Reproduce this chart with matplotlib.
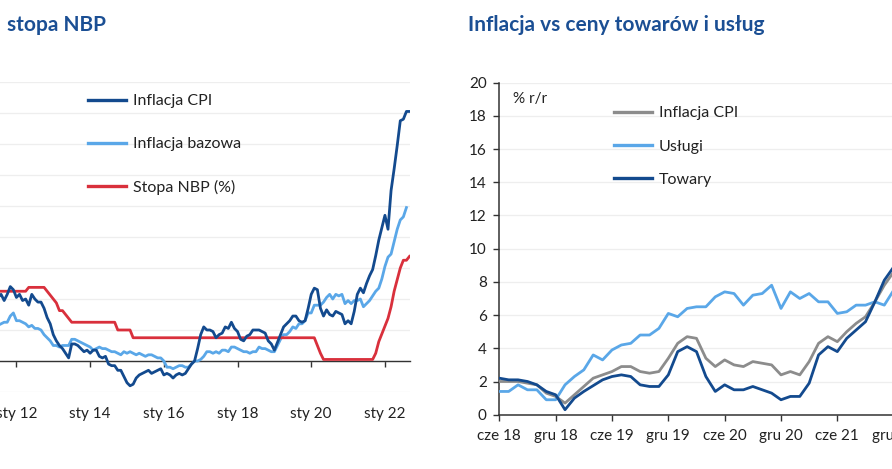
import numpy as np
import matplotlib
matplotlib.use("Agg")
import matplotlib.pyplot as plt

plt.rcParams['font.family'] = ['Lato', 'DejaVu Sans']

# ---------------- Left chart data (monthly, from Jun 2011) ----------------
left_start_year, left_start_month = 2011, 6
cpi_left = [4.2, 4.1, 4.3, 3.9, 4.3, 4.8, 4.6,
            4.1, 4.3, 3.9, 4.0, 3.6, 4.3, 4.0, 3.8, 3.8, 3.4, 2.8, 2.4,
            1.7, 1.3, 1.0, 0.8, 0.5, 0.2, 1.1, 1.1, 1.0, 0.8, 0.6, 0.7,
            0.5, 0.7, 0.7, 0.3, 0.2, 0.3, -0.2, -0.3, -0.3, -0.6, -0.6, -1.0,
            -1.4, -1.6, -1.5, -1.1, -0.9, -0.8, -0.7, -0.6, -0.8, -0.7, -0.6, -0.5,
            -0.9, -0.8, -0.9, -1.1, -0.9, -0.8, -0.9, -0.8, -0.5, -0.2, 0.0, 0.8,
            1.7, 2.2, 2.0, 2.0, 1.9, 1.5, 1.7, 1.8, 2.2, 2.1, 2.5, 2.1,
            1.9, 1.4, 1.3, 1.6, 1.7, 2.0, 2.0, 2.0, 1.9, 1.8, 1.3, 1.1,
            0.7, 1.2, 1.7, 2.2, 2.4, 2.6, 2.9, 2.9, 2.6, 2.5, 2.6, 3.4,
            4.3, 4.7, 4.6, 3.4, 2.9, 3.3, 3.0, 2.9, 3.2, 3.1, 3.0, 2.4,
            2.6, 2.4, 3.2, 4.3, 4.7, 4.4, 5.0, 5.5, 5.9, 6.8, 7.8, 8.6,
            9.4, 8.5, 11.0, 12.4, 13.9, 15.5, 15.6, 16.1, 16.1]
core_left = [2.2, 2.3, 2.4, 2.5, 2.5, 2.9, 3.1,
             2.6, 2.6, 2.5, 2.4, 2.2, 2.3, 2.1, 2.1, 2.0, 1.7, 1.5, 1.3,
             1.0, 1.0, 0.9, 1.0, 1.0, 1.0, 1.4, 1.4, 1.3, 1.2, 1.1, 1.0,
             0.9, 0.7, 0.8, 0.9, 0.8, 0.8, 0.7, 0.6, 0.6, 0.5, 0.4, 0.6,
             0.5, 0.6, 0.5, 0.4, 0.5, 0.4, 0.3, 0.4, 0.4, 0.3, 0.2, 0.2,
             0.0, -0.4, -0.4, -0.5, -0.4, -0.3, -0.3, -0.4, -0.4, -0.2, 0.0, 0.0,
             0.1, 0.3, 0.6, 0.6, 0.5, 0.6, 0.5, 0.7, 0.7, 0.6, 0.9, 0.9,
             0.8, 0.7, 0.6, 0.6, 0.5, 0.6, 0.6, 0.9, 0.8, 0.8, 0.7, 0.6,
             0.6, 1.0, 1.4, 1.7, 1.7, 1.9, 2.2, 2.1, 2.4, 2.4, 2.6, 3.1,
             3.1, 3.6, 3.6, 3.6, 3.8, 4.1, 4.3, 4.0, 4.3, 4.2, 4.3, 3.7,
             3.9, 3.7, 3.9, 3.9, 4.0, 3.5, 3.7, 3.9, 4.2, 4.5, 4.7, 5.3,
             6.1, 6.7, 6.9, 7.7, 8.5, 9.1, 9.3, 9.9]
rate_left = [4.5, 4.5, 4.5, 4.5, 4.5, 4.5, 4.5,
             4.5, 4.5, 4.5, 4.5, 4.75, 4.75, 4.75, 4.75, 4.75, 4.75, 4.5, 4.25,
             4.0, 3.75, 3.25, 3.25, 3.0, 2.75, 2.5, 2.5, 2.5, 2.5, 2.5, 2.5,
             2.5, 2.5, 2.5, 2.5, 2.5, 2.5, 2.5, 2.5, 2.5, 2.0, 2.0, 2.0,
             2.0, 2.0, 1.5, 1.5, 1.5, 1.5, 1.5, 1.5, 1.5, 1.5, 1.5, 1.5,
             1.5, 1.5, 1.5, 1.5, 1.5, 1.5, 1.5, 1.5, 1.5, 1.5, 1.5, 1.5,
             1.5, 1.5, 1.5, 1.5, 1.5, 1.5, 1.5, 1.5, 1.5, 1.5, 1.5, 1.5,
             1.5, 1.5, 1.5, 1.5, 1.5, 1.5, 1.5, 1.5, 1.5, 1.5, 1.5, 1.5,
             1.5, 1.5, 1.5, 1.5, 1.5, 1.5, 1.5, 1.5, 1.5, 1.5, 1.5, 1.5,
             1.5, 1.5, 1.0, 0.5, 0.1, 0.1, 0.1, 0.1, 0.1, 0.1, 0.1, 0.1,
             0.1, 0.1, 0.1, 0.1, 0.1, 0.1, 0.1, 0.1, 0.1, 0.5, 1.25, 1.75,
             2.25, 2.75, 3.5, 4.5, 5.25, 6.0, 6.5, 6.5, 6.75]
left_tick_years = [2010, 2012, 2014, 2016, 2018, 2020, 2022]
left_tick_labels = ["sty 10", "sty 12", "sty 14", "sty 16", "sty 18", "sty 20", "sty 22"]

# ---------------- Right chart data (monthly, from Jun 2018) ----------------
cpi_right = [2.0, 2.0, 2.0, 1.9, 1.8, 1.3, 1.1,
             0.7, 1.2, 1.7, 2.2, 2.4, 2.6, 2.9, 2.9, 2.6, 2.5, 2.6, 3.4,
             4.3, 4.7, 4.6, 3.4, 2.9, 3.3, 3.0, 2.9, 3.2, 3.1, 3.0, 2.4,
             2.6, 2.4, 3.2, 4.3, 4.7, 4.4, 5.0, 5.5, 5.9, 6.8, 7.8, 8.6]
services_right = [1.4, 1.4, 1.8, 1.5, 1.5, 0.9, 0.9,
                  1.8, 2.3, 2.7, 3.6, 3.3, 3.9, 4.2, 4.3, 4.8, 4.8, 5.2, 6.1,
                  5.9, 6.4, 6.5, 6.5, 7.1, 7.4, 7.3, 6.6, 7.2, 7.3, 7.8, 6.4,
                  7.4, 7.0, 7.3, 6.8, 6.8, 6.1, 6.2, 6.6, 6.6, 6.8, 6.6, 7.5]
goods_right = [2.2, 2.1, 2.1, 2.0, 1.8, 1.4, 1.2,
               0.3, 1.0, 1.4, 1.75, 2.1, 2.3, 2.4, 2.3, 1.8, 1.7, 1.7, 2.4,
               3.8, 4.1, 3.8, 2.3, 1.4, 1.8, 1.5, 1.5, 1.7, 1.5, 1.3, 0.9,
               1.1, 1.1, 1.9, 3.6, 4.1, 3.8, 4.6, 5.1, 5.6, 6.8, 8.1, 8.9]
right_tick_pos = [0, 6, 12, 18, 24, 30, 36, 42, 48]
right_tick_labels = ["cze 18", "gru 18", "cze 19", "gru 19", "cze 20",
                     "gru 20", "cze 21", "gru 21", "cze 22"]

# ---------------- Styling ----------------
DARK = "#134A8E"
LIGHT = "#5AA7E8"
RED = "#D9303C"
GREY = "#8C8C8C"
TITLE = "#1B4F94"
GRID = "#EEEEEE"
AXC = "#333333"
TXT = "#222222"

W, H = 892, 469
fig = plt.figure(figsize=(W / 100, H / 100), dpi=100)
fig.patch.set_facecolor("white")

def fx(px):
    return px / W

def fy(py):
    return 1 - py / H

# ---------------- Left axes ----------------
xl0, xl1 = 2010.0, 2022 + 8 / 12
pxl_right = 409.5
px_per_year = 36.85
pxl_left = pxl_right - (xl1 - xl0) * px_per_year
axL = fig.add_axes([fx(pxl_left), fy(392), (pxl_right - pxl_left) / W, (392 - 82) / H])
xL = left_start_year + (left_start_month - 1) / 12 + np.arange(len(cpi_left)) / 12
xLc = left_start_year + (left_start_month - 1) / 12 + np.arange(len(core_left)) / 12
xLr = left_start_year + (left_start_month - 1) / 12 + np.arange(len(rate_left)) / 12
axL.plot(xLc, core_left, color=LIGHT, lw=2.0, label="Inflacja bazowa", zorder=3)
axL.plot(xLr, rate_left, color=RED, lw=2.0, label="Stopa NBP (%)", zorder=3)
axL.plot(xL, cpi_left, color=DARK, lw=2.0, label="Inflacja CPI", zorder=4)
axL.set_xlim(xl0, xl1)
axL.set_ylim(-2, 18)
axL.set_yticks(np.arange(-2, 19, 2))
axL.yaxis.grid(True, color=GRID, lw=0.9)
axL.set_axisbelow(True)
for s in ["top", "right", "left"]:
    axL.spines[s].set_visible(False)
axL.spines["bottom"].set_position(("data", 0))
axL.spines["bottom"].set_color(AXC)
axL.spines["bottom"].set_linewidth(1.0)
axL.tick_params(axis="y", left=False, labelleft=False)
axL.set_xticks(left_tick_years)
axL.set_xticklabels(left_tick_labels)
axL.tick_params(axis="x", direction="out", length=4, width=1, color=AXC,
                pad=29, labelsize=11, labelcolor=TXT)
hL = axL.get_legend_handles_labels()
order = [2, 0, 1]
legL = fig.legend([hL[0][i] for i in order], [hL[1][i] for i in order],
                  loc="upper left", bbox_to_anchor=(fx(88), fy(94)),
                  bbox_transform=fig.transFigure, frameon=False, fontsize=11.5,
                  handlelength=2.35, handletextpad=0.45, labelspacing=1.8,
                  borderpad=0, borderaxespad=0)
for t in legL.get_texts():
    t.set_color(TXT)
for l in legL.get_lines():
    l.set_linewidth(2.4)

# ---------------- Right axes ----------------
pxr_left = 499.3
px_per_month = 9.39
xr1 = 51
axR = fig.add_axes([fx(pxr_left), fy(414.7), xr1 * px_per_month / W, (414.7 - 82.7) / H])
xR = np.arange(len(cpi_right))
axR.plot(xR, services_right, color=LIGHT, lw=2.0, label="Usługi", zorder=3)
axR.plot(xR, cpi_right, color=GREY, lw=2.0, label="Inflacja CPI", zorder=3)
axR.plot(xR, goods_right, color=DARK, lw=2.0, label="Towary", zorder=4)
axR.set_xlim(0, xr1)
axR.set_ylim(0, 20)
axR.set_yticks(np.arange(0, 21, 2))
axR.yaxis.grid(True, color=GRID, lw=0.9)
axR.set_axisbelow(True)
for s in ["top", "right"]:
    axR.spines[s].set_visible(False)
for s in ["left", "bottom"]:
    axR.spines[s].set_color(AXC)
    axR.spines[s].set_linewidth(1.1)
axR.set_xticks(right_tick_pos)
axR.set_xticklabels(right_tick_labels)
axR.tick_params(axis="both", direction="out", length=4, width=1, color=AXC,
                labelsize=11, labelcolor=TXT)
axR.tick_params(axis="x", pad=6)
axR.tick_params(axis="y", pad=5)
hR = axR.get_legend_handles_labels()
orderR = [1, 0, 2]
legR = fig.legend([hR[0][i] for i in orderR], [hR[1][i] for i in orderR],
                  loc="upper left", bbox_to_anchor=(fx(614), fy(106)),
                  bbox_transform=fig.transFigure, frameon=False, fontsize=11.5,
                  handlelength=2.35, handletextpad=0.45, labelspacing=1.2,
                  borderpad=0, borderaxespad=0)
for t in legR.get_texts():
    t.set_color(TXT)
for l in legR.get_lines():
    l.set_linewidth(2.4)

fig.text(fx(512.7), fy(99), "% r/r", fontsize=11, color=TXT, va="center", ha="left")

# ---------------- Titles ----------------
fig.text(fx(7), fy(25), "stopa NBP", fontsize=15, fontweight="bold",
         color=TITLE, va="center", ha="left")
fig.text(fx(468.3), fy(25), "Inflacja vs ceny towarów i usług", fontsize=15,
         fontweight="bold", color=TITLE, va="center", ha="left")

fig.savefig("out.png", dpi=100, facecolor="white")
